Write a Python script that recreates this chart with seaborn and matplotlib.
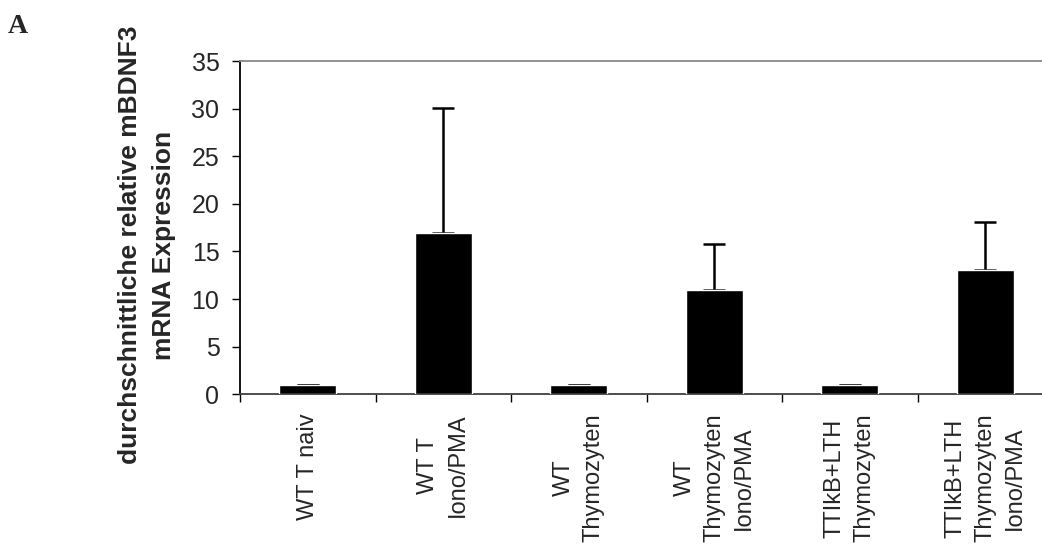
import matplotlib
matplotlib.use("Agg")
import matplotlib.pyplot as plt
import seaborn as sns
import pandas as pd
import numpy as np

categories = ["WT T naiv", "WT T\nIono/PMA", "WT\nThymozyten", "WT\nThymozyten\nIono/PMA",
              "TTIkB+LTH\nThymozyten", "TTIkB+LTH\nThymozyten\nIono/PMA"]
values = [1.0, 16.9, 1.0, 10.95, 1.0, 13.05]
errors = [0.0, 13.15, 0.0, 4.85, 0.0, 5.05]
ytick_values = [0, 5, 10, 15, 20, 25, 30, 35]

sns.set_theme(style="white")
plt.rcParams['font.family'] = ['Liberation Sans', 'DejaVu Sans']

fig = plt.figure(figsize=(10.42, 5.58), dpi=100)
ax = fig.add_axes([240/1042, 1-394.3/558, (1053-240)/1042, (394.3-61)/558])

df = pd.DataFrame({"cat": categories, "val": values})
sns.barplot(data=df, x="cat", y="val", color="black", width=0.42, errorbar=None,
            saturation=1, ax=ax, zorder=3)
pos = np.arange(len(categories))
ax.errorbar(pos, values, yerr=[np.zeros(len(errors)), errors], fmt="none",
            ecolor="black", elinewidth=1.8, capsize=8, capthick=1.8, zorder=2)

ax.set_xlim(-0.5, len(categories) - 0.5)
ax.set_ylim(0, 35)
ax.set_yticks(ytick_values)
ax.set_yticklabels([str(v) for v in ytick_values], fontsize=18)
ax.tick_params(axis="y", direction="out", length=5.8, width=1, color="black", pad=9, left=True)

ax.set_xticks(pos)
ax.set_xticklabels(categories, rotation=90, fontsize=17, ha="center", va="top",
                   multialignment="center", linespacing=1.45)
ax.tick_params(axis="x", which="major", length=0, pad=14, bottom=True)
ax.set_xticks(np.arange(-0.5, len(categories) + 0.5, 1), minor=True)
ax.tick_params(axis="x", which="minor", direction="out", length=6, width=1, color="black", bottom=True)

ax.spines["left"].set_color("black")
ax.spines["left"].set_linewidth(1.3)
ax.spines["bottom"].set_color("#404040")
ax.spines["bottom"].set_linewidth(1.3)
ax.spines["top"].set_color("#888888")
ax.spines["top"].set_linewidth(1.3)
ax.spines["right"].set_visible(False)
ax.set_xlabel("")
ax.set_ylabel("durchschnittliche relative mBDNF3\nmRNA Expression", fontsize=19,
              fontweight="bold", linespacing=1.55)
ax.yaxis.set_label_coords(176/1042, 1-245/558, transform=fig.transFigure)

fig.text(8/1042, 1-33/558, "A", fontsize=20, fontweight="bold",
         family=["Liberation Serif", "DejaVu Serif"], ha="left", va="baseline")

fig.savefig("out.png", dpi=100)
